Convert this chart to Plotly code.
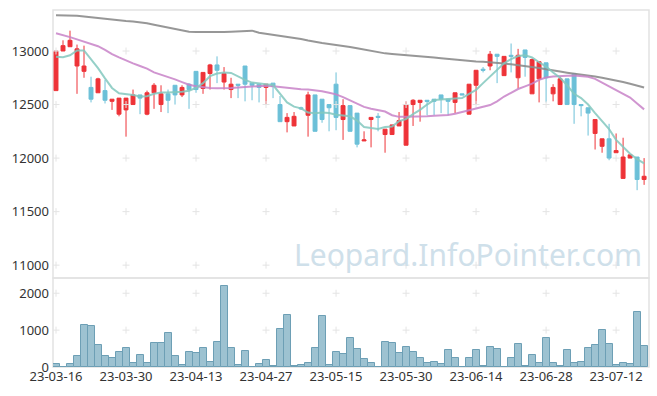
import plotly.graph_objects as go

dates = ["23-03-16","23-03-17","23-03-20","23-03-21","23-03-22","23-03-23","23-03-24","23-03-27","23-03-28","23-03-29",
         "23-03-30","23-03-31","23-04-03","23-04-04","23-04-05","23-04-06","23-04-07","23-04-10","23-04-11","23-04-12",
         "23-04-13","23-04-14","23-04-17","23-04-18","23-04-19","23-04-20","23-04-21","23-04-24","23-04-25","23-04-26",
         "23-04-27","23-04-28","23-05-02","23-05-03","23-05-04","23-05-08","23-05-09","23-05-10","23-05-11","23-05-12",
         "23-05-15","23-05-16","23-05-17","23-05-18","23-05-19","23-05-22","23-05-23","23-05-24","23-05-25","23-05-26",
         "23-05-30","23-05-31","23-06-01","23-06-02","23-06-05","23-06-07","23-06-08","23-06-09","23-06-12","23-06-13",
         "23-06-14","23-06-15","23-06-16","23-06-19","23-06-20","23-06-21","23-06-22","23-06-23","23-06-26","23-06-27",
         "23-06-28","23-06-29","23-06-30","23-07-03","23-07-04","23-07-05","23-07-06","23-07-07","23-07-10","23-07-11",
         "23-07-12","23-07-13","23-07-14","23-07-17","23-07-18"]

open_ = [12630,13000,13040,12860,12810,12660,12610,12630,12530,12410,
         12450,12500,12590,12410,12610,12500,12600,12680,12590,12690,
         12810,12650,12790,12870,12710,12640,12690,12860,12700,12690,
         12660,12700,12500,12340,12300,12470,12400,12590,12550,12500,
         12690,12360,12490,12420,12160,12360,12390,12220,12220,12300,
         12120,12500,12520,12540,12550,12590,12550,12520,12600,12410,
         12680,12830,12860,12970,12770,12960,12750,13010,12600,12740,
         12890,12600,12500,12740,12790,12500,12470,12230,12110,12180,
         12050,11810,12000,12010,11800]
high = [13000,13100,13190,13060,13050,12760,12750,12730,12550,12560,
        12560,12640,12590,12630,12700,12680,12640,12680,12680,12700,
        12810,12800,12880,12950,12850,12750,12690,12860,12700,12690,
        12690,12700,12580,12420,12430,12480,12620,12590,12550,12500,
        12800,12550,12490,12420,12250,12380,12420,12270,12310,12430,
        12530,12550,12540,12540,12550,12590,12550,12610,12600,12690,
        12820,12850,13000,12970,12950,13070,13020,13010,12930,12900,
        12890,12690,12760,12740,12790,12500,12470,12360,12180,12320,
        12230,12190,12030,12010,12000]
low = [12630,13000,13040,12600,12750,12520,12610,12510,12450,12390,
       12200,12500,12410,12400,12460,12430,12420,12500,12570,12460,
       12610,12600,12640,12700,12640,12560,12560,12530,12540,12520,
       12500,12560,12340,12240,12300,12450,12200,12250,12330,12250,
       12260,12170,12250,12100,12160,12100,12250,12050,12220,12300,
       12120,12300,12340,12400,12400,12420,12400,12420,12590,12410,
       12500,12800,12820,12700,12770,12800,12650,12760,12600,12520,
       12520,12530,12500,12500,12320,12390,12210,12080,12050,11980,
       12050,11810,12000,11700,11750]
close = [13000,13050,13100,13020,12860,12550,12740,12540,12550,12560,
         12560,12590,12560,12610,12680,12600,12540,12590,12660,12640,
         12640,12800,12870,12820,12790,12690,12680,12690,12680,12660,
         12690,12670,12340,12380,12390,12460,12590,12250,12360,12470,
         12380,12490,12250,12130,12170,12380,12380,12270,12310,12350,
         12500,12540,12540,12530,12530,12550,12530,12610,12590,12690,
         12820,12820,12970,12950,12950,12950,12960,12940,12920,12900,
         12750,12660,12740,12500,12500,12490,12420,12360,12180,12000,
         12070,12010,12030,11800,11830]

ma5 = [12947,12941,12960,13005,13005,12922,12840,12745,12655,12605,
       12598,12589,12575,12578,12600,12612,12612,12615,12620,12629,
       12655,12700,12765,12790,12800,12795,12760,12730,12705,12695,
       12690,12682,12600,12520,12480,12464,12425,12418,12425,12420,
       12405,12400,12390,12350,12290,12280,12272,12290,12295,12345,
       12365,12410,12450,12500,12542,12548,12551,12555,12560,12600,
       12636,12700,12760,12820,12885,12925,12953,12960,12940,12895,
       12855,12800,12750,12680,12600,12560,12500,12420,12350,12270,
       12170,12100,12040,11990,11950]
ma20 = [13165,13150,13130,13109,13090,13065,13045,13010,12970,12940,
        12910,12885,12860,12835,12800,12780,12760,12735,12710,12685,
        12670,12660,12655,12652,12652,12655,12660,12665,12670,12674,
        12676,12670,12662,12655,12646,12642,12640,12636,12625,12610,
        12595,12570,12540,12505,12478,12460,12445,12435,12400,12385,
        12385,12386,12386,12390,12396,12400,12402,12415,12430,12450,
        12465,12480,12495,12530,12575,12610,12645,12670,12695,12730,
        12752,12762,12768,12770,12772,12768,12760,12740,12705,12675,
        12640,12605,12565,12510,12455]
ma60 = [13334,13333,13332,13330,13322,13314,13306,13298,13292,13285,
        13280,13276,13271,13260,13246,13232,13218,13204,13190,13180,
        13178,13177,13177,13178,13178,13180,13182,13186,13190,13170,
        13160,13150,13142,13135,13125,13112,13098,13084,13075,13066,
        13058,13048,13037,13025,13012,12998,12984,12978,12972,12967,
        12963,12960,12953,12947,12940,12933,12926,12919,12912,12907,
        12903,12899,12895,12891,12884,12876,12868,12860,12853,12841,
        12829,12815,12808,12798,12790,12782,12771,12762,12750,12738,
        12725,12710,12694,12677,12660]

volume = [75,0,75,290,1130,1105,590,295,240,400,
          510,105,320,105,645,645,915,295,50,400,
          375,510,130,672,2190,510,50,430,0,75,
          185,22,1025,1405,22,50,105,510,1378,50,
          400,348,782,486,216,108,0,676,649,378,
          541,405,243,108,135,81,459,243,0,243,
          459,27,541,486,0,243,622,27,324,108,
          784,108,27,459,108,135,514,595,1000,622,
          54,108,81,1486,568]

x_ticks = dates[::10]
price_ticks = [11000, 11500, 12000, 12500, 13000]
volume_ticks = [0, 1000, 2000]

RED = "#ee3338"
BLUE = "#6cc0d8"
FONT = "Noto Sans"
TICKFONT = dict(family=FONT, size=13, color="#333333")

fig = go.Figure()

# faint grid crosses at tick intersections
cross = dict(symbol="cross-thin", size=5, line=dict(width=1, color="#e4e4e4"))
fig.add_trace(go.Scatter(
    x=[d for d in x_ticks for _ in price_ticks],
    y=[v for _ in x_ticks for v in price_ticks],
    mode="markers", yaxis="y", marker=cross, hoverinfo="skip"))
fig.add_trace(go.Scatter(
    x=[d for d in x_ticks for _ in volume_ticks[1:]],
    y=[v for _ in x_ticks for v in volume_ticks[1:]],
    mode="markers", yaxis="y2", marker=cross, hoverinfo="skip"))

fig.add_trace(go.Candlestick(
    x=dates, open=open_, high=high, low=low, close=close,
    increasing=dict(line=dict(color=RED, width=1), fillcolor=RED),
    decreasing=dict(line=dict(color=BLUE, width=1), fillcolor=BLUE),
    whiskerwidth=0, yaxis="y"))

fig.add_trace(go.Scatter(x=dates, y=ma60, mode="lines", yaxis="y",
                         line=dict(color="rgba(140,140,140,0.9)", width=2)))
fig.add_trace(go.Scatter(x=dates, y=ma20, mode="lines", yaxis="y",
                         line=dict(color="rgba(200,130,200,0.85)", width=2)))
fig.add_trace(go.Scatter(x=dates, y=ma5, mode="lines", yaxis="y",
                         line=dict(color="rgba(130,200,190,0.85)", width=2)))

fig.add_trace(go.Bar(x=dates, y=volume, yaxis="y2",
                     marker=dict(color="#9dc2d1", line=dict(color="#6d9fb5", width=1))))

split = 89 / 357

fig.update_layout(
    width=657, height=396,
    margin=dict(l=53, r=8, t=10, b=29),
    paper_bgcolor="white", plot_bgcolor="white",
    showlegend=False, bargap=0, boxgap=0.2,
    font=dict(family=FONT, size=13, color="#333333"),
    xaxis=dict(type="category", categoryorder="array", categoryarray=dates,
               range=[-0.43, 84.7], tickvals=x_ticks, ticktext=x_ticks,
               showgrid=False, zeroline=False, showline=False, ticks="",
               anchor="y2", rangeslider=dict(visible=False), automargin=False,
               tickfont=TICKFONT),
    yaxis=dict(domain=[split, 1], range=[10880, 13383], tickvals=price_ticks,
               ticktext=[str(v) for v in price_ticks], automargin=False,
               showgrid=False, zeroline=False, showline=False, ticks="",
               ticklabelstandoff=3, tickfont=TICKFONT),
    yaxis2=dict(domain=[0, split], range=[0, 2413], tickvals=volume_ticks,
                ticktext=[str(v) for v in volume_ticks], automargin=False,
                showgrid=False, zeroline=False, showline=False, ticks="",
                ticklabelstandoff=3, anchor="x", tickfont=TICKFONT),
    shapes=[
        dict(type="rect", xref="paper", yref="paper", x0=0, x1=1, y0=split, y1=1,
             line=dict(color="#e2e2e2", width=1.5), layer="below"),
        dict(type="rect", xref="paper", yref="paper", x0=0, x1=1, y0=0, y1=split,
             line=dict(color="#e2e2e2", width=1.5), layer="below"),
    ],
    annotations=[dict(text="Leopard.InfoPointer.com", xref="paper", yref="paper",
                      x=0.696, y=0.314, xanchor="center", yanchor="middle",
                      showarrow=False,
                      font=dict(family=FONT, size=30, color="#cfe0ea"))],
)

fig.write_html("out.html", config={"displayModeBar": False},
               post_script="document.body.style.margin='0px';")
